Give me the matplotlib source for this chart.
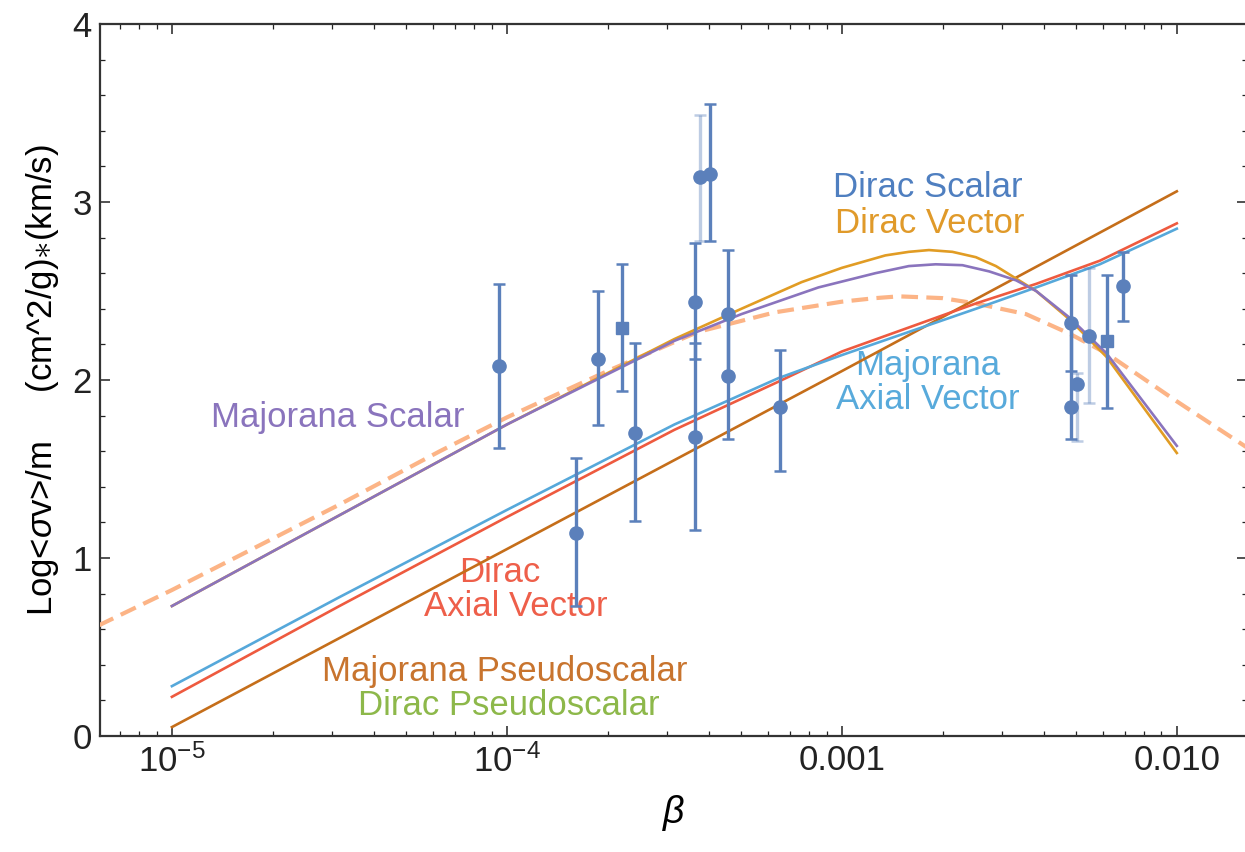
import numpy as np
import matplotlib
matplotlib.use('Agg')
import matplotlib.pyplot as plt
from matplotlib.ticker import FixedLocator, FixedFormatter, LogLocator, MultipleLocator, NullFormatter

plt.rcParams['font.family'] = ['Liberation Sans', 'DejaVu Sans']
plt.rcParams['mathtext.fontset'] = 'custom'
plt.rcParams['mathtext.rm'] = 'Liberation Sans'
plt.rcParams['mathtext.it'] = 'Liberation Sans:italic'

# --- curves (log10 beta, Log<sigma v>/m) ---
peach_lx = [-5.22, -5.0, -4.5, -4.2, -4.0, -3.7, -3.43, -3.2, -3.0, -2.9, -2.83, -2.7, -2.6, -2.45,
            -2.32, -2.21, -2.0, -1.79]
peach_y = [0.62, 0.82, 1.30, 1.60, 1.79, 2.05, 2.27, 2.38, 2.44, 2.46, 2.47, 2.46, 2.43, 2.37,
           2.26, 2.15, 1.88, 1.62]

maj_scalar_lx = [-5.0, -4.5, -4.0, -3.5, -3.3, -3.07, -2.9, -2.8, -2.72, -2.64, -2.56, -2.48, -2.42,
                 -2.32, -2.21, -2.0]
maj_scalar_y = [0.73, 1.24, 1.75, 2.22, 2.37, 2.52, 2.60, 2.64, 2.65, 2.645, 2.61, 2.56, 2.50,
                2.35, 2.15, 1.63]

dirac_vector_lx = [-5.0, -4.5, -4.0, -3.5, -3.3, -3.12, -3.0, -2.87, -2.8, -2.74, -2.67, -2.6, -2.54,
                   -2.48, -2.42, -2.32, -2.21, -2.0]
dirac_vector_y = [0.73, 1.24, 1.75, 2.23, 2.40, 2.55, 2.63, 2.70, 2.72, 2.73, 2.72, 2.69, 2.64,
                  2.57, 2.50, 2.34, 2.13, 1.59]

maj_axial_lx = [-5.0, -4.5, -4.0, -3.5, -3.19, -3.0, -2.6, -2.42, -2.23, -2.0]
maj_axial_y = [0.28, 0.78, 1.27, 1.75, 2.01, 2.14, 2.40, 2.52, 2.65, 2.85]

dirac_axial_lx = [-5.0, -4.5, -4.0, -3.5, -3.19, -3.0, -2.6, -2.42, -2.23, -2.0]
dirac_axial_y = [0.22, 0.73, 1.23, 1.72, 1.99, 2.16, 2.43, 2.54, 2.67, 2.88]

pseudo_lx = [-5.0, -4.0, -3.0, -2.0]
pseudo_y = [0.05, 1.05, 2.05, 3.06]

# --- data points ---
pt_beta = [9.5e-5, 1.61e-4, 1.87e-4, 2.2e-4, 2.41e-4, 3.64e-4, 3.64e-4, 3.77e-4, 4.04e-4,
           4.57e-4, 4.57e-4, 6.53e-4, 4.83e-3, 4.83e-3, 5.03e-3, 5.46e-3, 6.18e-3, 6.9e-3]
pt_val = [2.08, 1.14, 2.12, 2.29, 1.70, 2.44, 1.68, 3.14, 3.16,
          2.37, 2.02, 1.85, 2.32, 1.85, 1.98, 2.25, 2.22, 2.53]
pt_lo = [1.62, 0.73, 1.75, 1.94, 1.21, 2.12, 1.16, 2.78, 2.78,
         2.02, 1.67, 1.49, 2.05, 1.67, 1.66, 1.87, 1.84, 2.33]
pt_hi = [2.54, 1.56, 2.50, 2.65, 2.21, 2.77, 2.21, 3.49, 3.55,
         2.73, 2.37, 2.17, 2.59, 2.32, 2.04, 2.63, 2.59, 2.72]
pt_marker = ['o', 'o', 'o', 's', 'o', 'o', 'o', 'o', 'o',
             'o', 'o', 'o', 'o', 'o', 'o', 'o', 's', 'o']
pt_faint = [False, False, False, False, False, False, False, True, False,
            False, False, False, False, False, True, True, False, False]

xticks = [1e-5, 1e-4, 1e-3, 1e-2]
xticklabels = ['$10^{-5}$', '$10^{-4}$', '0.001', '0.010']
yticks = [0, 1, 2, 3, 4]


def b(lx):
    return np.power(10.0, lx)


fig = plt.figure(figsize=(12.45, 8.52), dpi=100)
ax = fig.add_axes([100 / 1245, 116 / 852, 1147 / 1245, 712 / 852])

ax.plot(b(peach_lx), peach_y, color='#fcb486', lw=3.0, dashes=(4, 2), zorder=3)
ax.plot(b(pseudo_lx), pseudo_y, color='#c56e1a', lw=1.9, zorder=4)
ax.plot(b(dirac_axial_lx), dirac_axial_y, color='#ee5a3f', lw=1.9, zorder=4)
ax.plot(b(maj_axial_lx), maj_axial_y, color='#56a8da', lw=1.9, zorder=4)
ax.plot(b(dirac_vector_lx), dirac_vector_y, color='#e19c24', lw=1.9, zorder=4)
ax.plot(b(maj_scalar_lx), maj_scalar_y, color='#8a74bd', lw=1.9, zorder=4)

pcol = '#5b80bb'
for xb, v, lo, hi, m, faint in zip(pt_beta, pt_val, pt_lo, pt_hi, pt_marker, pt_faint):
    ax.errorbar([xb], [v], yerr=[[v - lo], [hi - v]], fmt='none', ecolor=pcol,
                elinewidth=2.4, capsize=4, capthick=1.8,
                alpha=0.4 if faint else 1.0, zorder=5)
    ax.plot([xb], [v], marker=m, ms=9.5 if m == 'o' else 8.5, color=pcol, ls='none', zorder=6)

# curve labels
fs = 25
ax.text(1.81e-3, 3.08, 'Dirac Scalar', color='#4f7fc0', fontsize=fs, ha='center', va='center')
ax.text(1.83e-3, 2.88, 'Dirac Vector', color='#e09a2a', fontsize=fs, ha='center', va='center')
ax.text(3.13e-5, 1.79, 'Majorana Scalar', color='#8a74bd', fontsize=fs, ha='center', va='center')
ax.text(1.81e-3, 2.08, 'Majorana', color='#58aadb', fontsize=fs, ha='center', va='center')
ax.text(1.81e-3, 1.89, 'Axial Vector', color='#58aadb', fontsize=fs, ha='center', va='center')
ax.text(9.5e-5, 0.92, 'Dirac', color='#ee5f4a', fontsize=fs, ha='center', va='center')
ax.text(1.06e-4, 0.73, 'Axial Vector', color='#ee5f4a', fontsize=fs, ha='center', va='center')
ax.text(9.86e-5, 0.36, 'Majorana Pseudoscalar', color='#c8742e', fontsize=fs, ha='center', va='center')
ax.text(1.01e-4, 0.17, 'Dirac Pseudoscalar', color='#8db84a', fontsize=fs, ha='center', va='center')

ax.set_xscale('log')
ax.set_xlim(6.1e-6, 1.62e-2)
ax.set_ylim(0, 4)

ax.xaxis.set_major_locator(FixedLocator(xticks))
ax.xaxis.set_major_formatter(FixedFormatter(xticklabels))
ax.xaxis.set_minor_locator(LogLocator(base=10, subs=np.arange(2, 10)))
ax.xaxis.set_minor_formatter(NullFormatter())
ax.yaxis.set_major_locator(FixedLocator(yticks))
ax.yaxis.set_minor_locator(MultipleLocator(0.2))

ax.tick_params(which='both', direction='in', top=True, right=True, colors='#222222',
               labelsize=25)
ax.tick_params(which='major', length=7, width=1.1, pad=6)
ax.tick_params(which='minor', length=3.5, width=0.9)
for s in ax.spines.values():
    s.set_linewidth(1.6)
    s.set_color('#333333')

ax.set_ylabel(r'Log<$\mathit{\sigma}$v>/m     (cm^2/g)$\ast$(km/s)', fontsize=25, labelpad=8)
ax.set_xlabel(r'$\mathit{\beta}$', fontsize=27, labelpad=10)

fig.savefig('out.png', dpi=100)
